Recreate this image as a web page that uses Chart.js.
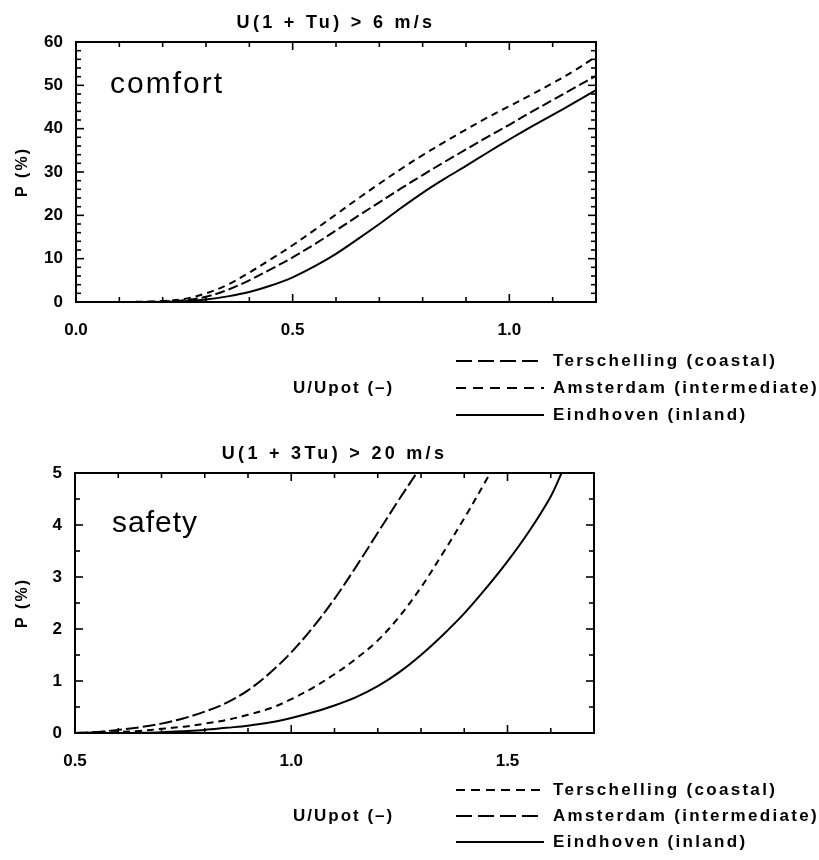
<!DOCTYPE html>
<html><head><meta charset="utf-8">
<script src="https://cdn.jsdelivr.net/npm/chart.js@4.4.0/dist/chart.umd.min.js"></script>
<style>
html,body{margin:0;padding:0;background:#fff;}
#wrap{position:relative;width:819px;height:860px;background:#fff;}
canvas{position:absolute;left:0;}
</style></head><body>
<div id="wrap">
<canvas id="c1" width="819" height="430" style="top:0"></canvas>
<canvas id="c2" width="819" height="430" style="top:430px"></canvas>
</div>
<script>
// ---- Top panel: comfort, U(1 + Tu) > 6 m/s ----
const comfortX = [0, 0.05, 0.1, 0.15, 0.2, 0.25, 0.3, 0.35, 0.4, 0.45, 0.5, 0.55, 0.6, 0.65, 0.7, 0.75, 0.8, 0.85, 0.9, 0.95, 1.0, 1.05, 1.1, 1.15, 1.2];
const comfortTerschelling = [0, 0, 0, 0.02, 0.1, 0.4, 1.2, 2.8, 5.0, 7.6, 10.3, 13.3, 16.5, 19.8, 23.0, 26.2, 29.3, 32.3, 35.2, 38.1, 40.9, 43.8, 46.6, 49.4, 52.2];
const comfortAmsterdam = [0, 0, 0, 0.05, 0.2, 0.7, 2.0, 4.0, 6.8, 9.9, 13.1, 16.6, 20.2, 23.8, 27.3, 30.7, 33.9, 36.9, 39.8, 42.6, 45.2, 47.8, 50.5, 53.4, 56.6];
const comfortEindhoven = [0, 0, 0, 0, 0.05, 0.2, 0.6, 1.3, 2.3, 3.8, 5.7, 8.2, 11.1, 14.5, 18.0, 21.7, 25.2, 28.4, 31.4, 34.5, 37.5, 40.4, 43.2, 46.0, 48.9];
const comfortXTicks = ['0.0', '0.5', '1.0'];
const comfortYTicks = ['0', '10', '20', '30', '40', '50', '60'];

// ---- Bottom panel: safety, U(1 + 3Tu) > 20 m/s ----
const safetyAmsterdamX = [0.5, 0.55, 0.6, 0.65, 0.7, 0.75, 0.8, 0.85, 0.9, 0.95, 1.0, 1.05, 1.1, 1.15, 1.2, 1.25, 1.29];
const safetyAmsterdam  = [0, 0.02, 0.06, 0.11, 0.18, 0.28, 0.41, 0.58, 0.82, 1.15, 1.55, 2.03, 2.58, 3.2, 3.85, 4.5, 5.0];
const safetyTerschellingX = [0.5, 0.55, 0.6, 0.65, 0.7, 0.75, 0.8, 0.85, 0.9, 0.95, 1.0, 1.05, 1.1, 1.15, 1.2, 1.25, 1.3, 1.35, 1.4, 1.45, 1.46];
const safetyTerschelling  = [0, 0.01, 0.02, 0.04, 0.08, 0.12, 0.18, 0.25, 0.35, 0.47, 0.65, 0.87, 1.13, 1.43, 1.78, 2.24, 2.8, 3.45, 4.13, 4.85, 5.0];
const safetyEindhovenX = [0.5, 0.55, 0.6, 0.65, 0.7, 0.75, 0.8, 0.85, 0.9, 0.95, 1.0, 1.05, 1.1, 1.15, 1.2, 1.25, 1.3, 1.35, 1.4, 1.45, 1.5, 1.55, 1.6, 1.625];
const safetyEindhoven  = [0, 0, 0, 0.005, 0.015, 0.035, 0.06, 0.1, 0.14, 0.2, 0.29, 0.4, 0.53, 0.69, 0.9, 1.17, 1.5, 1.88, 2.3, 2.78, 3.3, 3.88, 4.55, 5.0];
const safetyXTicks = ['0.5', '1.0', '1.5'];
const safetyYTicks = ['0', '1', '2', '3', '4', '5'];

const FONT = '"Liberation Sans", Arial, sans-serif';

function pts(xs, ys) { return xs.map((x, i) => ({ x: x, y: ys[i] })); }
function isMult(v, m) { const r = v / m; return Math.abs(r - Math.round(r)) < 1e-6; }

function decor(cfg) {
  return {
    id: 'decor',
    afterDraw(chart) {
      const ctx = chart.ctx, a = chart.chartArea, xs = chart.scales.x, ys = chart.scales.y;
      ctx.save();
      ctx.strokeStyle = '#000';
      ctx.fillStyle = '#000';
      ctx.setLineDash([]);
      ctx.lineWidth = 2;
      ctx.strokeRect(a.left, a.top, a.right - a.left, a.bottom - a.top);
      function seg(x1, y1, x2, y2) { ctx.beginPath(); ctx.moveTo(x1, y1); ctx.lineTo(x2, y2); ctx.stroke(); }
      ctx.lineWidth = 1.6;
      xs.ticks.forEach(t => {
        const p = xs.getPixelForValue(t.value);
        const L = isMult(t.value, cfg.xMajor) ? 8 : 5;
        seg(p, a.bottom, p, a.bottom - L);
        seg(p, a.top, p, a.top + L);
      });
      ys.ticks.forEach(t => {
        const p = ys.getPixelForValue(t.value);
        const L = isMult(t.value, cfg.yMajor) ? 8 : 5;
        seg(a.left, p, a.left + L, p);
        seg(a.right, p, a.right - L, p);
      });
      // title
      ctx.font = 'bold 18px ' + FONT;
      ctx.letterSpacing = '3.3px';
      ctx.textAlign = 'center';
      ctx.textBaseline = 'middle';
      ctx.fillText(cfg.title, (a.left + a.right) / 2, a.top - 19);
      // panel label
      ctx.font = '30px ' + FONT;
      ctx.letterSpacing = cfg.panelSpacing;
      ctx.textAlign = 'left';
      ctx.textBaseline = 'alphabetic';
      ctx.fillText(cfg.panel, cfg.panelX, cfg.panelY);
      // y-axis title
      ctx.save();
      ctx.translate(23, (a.top + a.bottom) / 2);
      ctx.rotate(-Math.PI / 2);
      ctx.font = 'bold 16px ' + FONT;
      ctx.letterSpacing = '2px';
      ctx.textAlign = 'center';
      ctx.textBaseline = 'middle';
      ctx.fillText('P (%)', 0, 0);
      ctx.restore();
      // x-axis title
      ctx.font = 'bold 17px ' + FONT;
      ctx.letterSpacing = '2px';
      ctx.textAlign = 'left';
      ctx.textBaseline = 'middle';
      ctx.fillText('U/Upot (–)', cfg.xTitleX, cfg.rows[1]);
      // legend
      ctx.letterSpacing = '2.3px';
      chart.data.datasets.forEach((ds, i) => {
        const y = cfg.rows[i];
        ctx.lineWidth = 2;
        ctx.setLineDash(cfg.legendDash[i]);
        seg(cfg.legX0, y, cfg.legX1, y);
        ctx.setLineDash([]);
        ctx.fillText(ds.label, cfg.legTextX, y);
      });
      ctx.restore();
    }
  };
}

function makeChart(id, datasets, sc, cfg) {
  return new Chart(document.getElementById(id), {
    type: 'line',
    data: { datasets: datasets },
    options: {
      responsive: false,
      devicePixelRatio: 1,
      animation: false,
      layout: { padding: { top: sc.top, right: sc.right, left: 0, bottom: 0 } },
      plugins: { legend: { display: false }, tooltip: { enabled: false }, title: { display: false } },
      elements: { point: { radius: 0 }, line: { borderWidth: 2, borderColor: '#000', tension: 0.35 } },
      scales: {
        x: {
          type: 'linear', min: sc.xMin, max: sc.xMax,
          afterFit: s => { s.height = sc.xHeight; },
          grid: { display: false, drawTicks: false },
          border: { display: true, color: '#000', width: 2 },
          ticks: {
            stepSize: 0.1, autoSkip: false, maxRotation: 0, padding: 18, color: '#000',
            font: { family: FONT, size: 17, weight: 'bold' },
            callback: v => { if (!isMult(v, 0.5)) return ''; const s = v.toFixed(1); return sc.xLabels.includes(s) ? s : ''; }
          }
        },
        y: {
          type: 'linear', min: sc.yMin, max: sc.yMax,
          afterFit: s => { s.width = sc.yWidth; },
          grid: { display: false, drawTicks: false },
          border: { display: true, color: '#000', width: 2 },
          ticks: {
            stepSize: sc.yStep, autoSkip: false, padding: 13, color: '#000',
            font: { family: FONT, size: 17, weight: 'bold' },
            callback: v => { if (!isMult(v, sc.yMajor)) return ''; const s = String(Math.round(v)); return sc.yLabels.includes(s) ? s : ''; }
          }
        }
      }
    },
    plugins: [decor(cfg)]
  });
}

makeChart('c1', [
  { label: 'Terschelling (coastal)', data: pts(comfortX, comfortTerschelling), borderDash: [10, 4] },
  { label: 'Amsterdam (intermediate)', data: pts(comfortX, comfortAmsterdam), borderDash: [7, 5] },
  { label: 'Eindhoven (inland)', data: pts(comfortX, comfortEindhoven), borderDash: [] }
], { top: 42, right: 223, yWidth: 76, xHeight: 128, xMin: 0, xMax: 1.2, yMin: 0, yMax: 60, yStep: 2, yMajor: 10, xLabels: comfortXTicks, yLabels: comfortYTicks },
{ title: 'U(1 + Tu) > 6 m/s', panel: 'comfort', panelX: 110, panelY: 93, panelSpacing: '2px', xMajor: 0.5, yMajor: 10,
  xTitleX: 293, rows: [361, 388, 415], legX0: 456, legX1: 544, legTextX: 553,
  legendDash: [[16, 6], [10, 7], []] });

makeChart('c2', [
  { label: 'Terschelling (coastal)', data: pts(safetyTerschellingX, safetyTerschelling), borderDash: [7, 5] },
  { label: 'Amsterdam (intermediate)', data: pts(safetyAmsterdamX, safetyAmsterdam), borderDash: [13, 4] },
  { label: 'Eindhoven (inland)', data: pts(safetyEindhovenX, safetyEindhoven), borderDash: [] }
], { top: 43, right: 225, yWidth: 75, xHeight: 127, xMin: 0.5, xMax: 1.7, yMin: 0, yMax: 5, yStep: 0.5, yMajor: 1, xLabels: safetyXTicks, yLabels: safetyYTicks },
{ title: 'U(1 + 3Tu) > 20 m/s', panel: 'safety', panelX: 112, panelY: 102, panelSpacing: '1px', xMajor: 0.5, yMajor: 1,
  xTitleX: 293, rows: [360, 386, 412], legX0: 456, legX1: 544, legTextX: 553,
  legendDash: [[9, 6], [16, 6], []] });
</script>
</body></html>
